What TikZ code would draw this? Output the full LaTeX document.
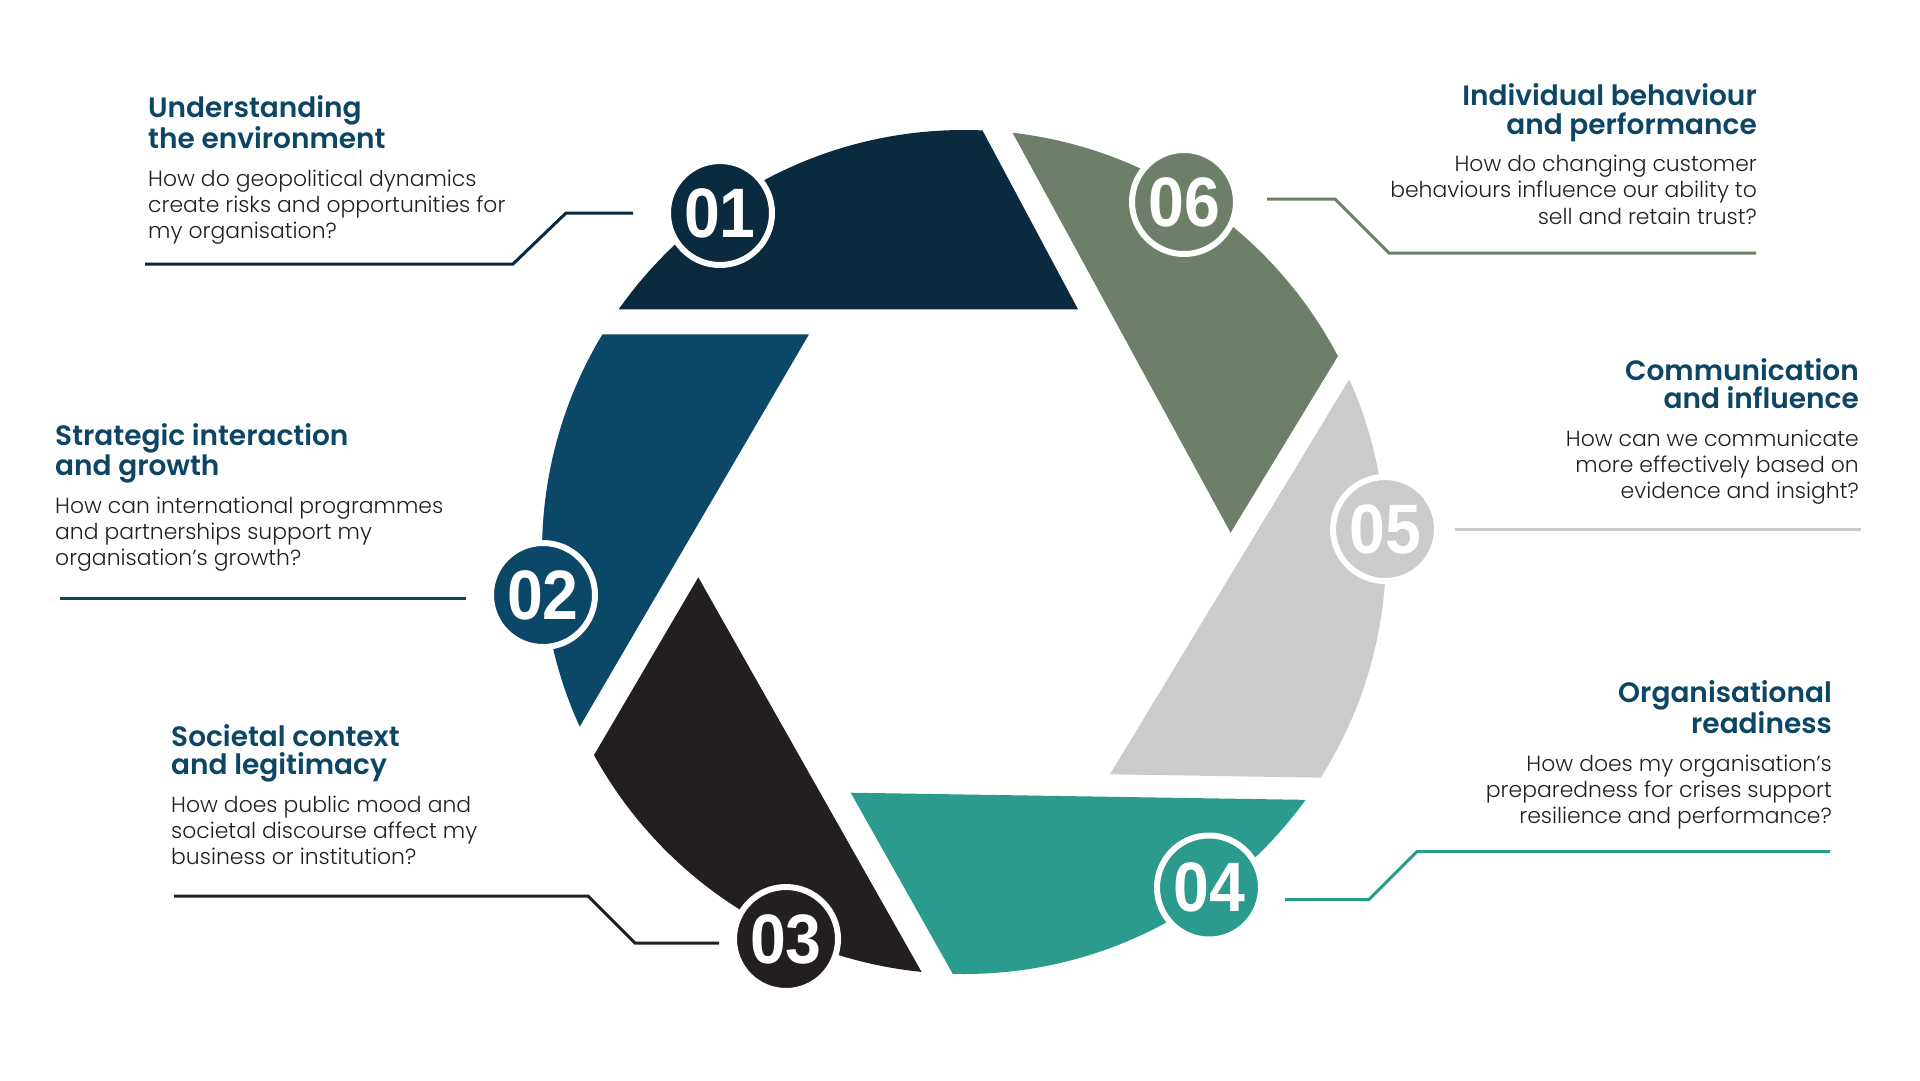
\documentclass[tikz,border=0pt]{standalone}
\usepackage{fontspec}
\usepackage{tikz}
\usetikzlibrary{positioning, calc}
\setmainfont{Poppins}[UprightFont={* Light}, BoldFont={* SemiBold}]
\newfontfamily\numfont{Liberation Sans}[FakeStretch=0.92]

\definecolor{c01}{HTML}{0A2A3F}
\definecolor{c02}{HTML}{0B4766}
\definecolor{c03}{HTML}{231F20}
\definecolor{c04}{HTML}{2A9B8C}
\definecolor{c05}{HTML}{CBCBCB}
\definecolor{c06}{HTML}{6E7F69}
\definecolor{headblue}{HTML}{0C4664}
\definecolor{bodygrey}{HTML}{231F20}

\tikzset{
  numdot/.style={circle, draw=white, line width=6pt, minimum size=104pt, inner sep=0pt,
    text=white, font=\numfont\bfseries\fontsize{70}{70}\selectfont},
  link/.style={line width=3pt},
  headL/.style={anchor=base west, align=left, inner sep=0pt, text=headblue,
    font=\bfseries\fontsize{28}{28.3}\selectfont},
  headR/.style={headL, anchor=base east, align=right},
  askL/.style={anchor=base west, align=left, inner sep=0pt, text=bodygrey,
    font=\fontsize{21.9}{26.3}\selectfont},
  askR/.style={askL, anchor=base east, align=right},
}

\begin{document}
\begin{tikzpicture}[x=1pt, y=1pt]
    % Sfondo
    \fill[white] (0,0) rectangle (1920,-1080);
    \useasboundingbox (0,0) rectangle (1920,-1080);
    \coordinate (C) at (964,-552);

    % Lamelle del diaframma
    \foreach \vx/\vy/\a/\b/\col in {1078/-309.3/118.1/180/c01, 809/-334.3/180/239.7/c02,
        698.3/-577.3/239.6/299.5/c03, 850.7/-792.7/299.4/359.1/c04,
        1110/-774.3/-0.9/58.8/c05, 1230.6/-532.7/58.7/118.6/c06} {
        \begin{scope}
            \clip (C) circle[radius=422];
            \fill[\col] (\vx,\vy) -- +(\a:1200) -- +(\b:1200) -- cycle;
        \end{scope}
    }

    % Cerchi numerati
    \foreach \i/\x/\y/\col in {1/720/-213/c01, 2/543/-595/c02, 3/786/-939/c03,
        4/1209/-887.5/c04, 5/1385/-529/c05, 6/1184/-202/c06} {
        \node[numdot, fill=\col] (n\i) at (\x,\y) {0\i};
    }

    % Estremi liberi delle linee
    \coordinate (e1) at (145,-264);
    \coordinate (e2) at (60,-598);
    \coordinate (e3) at (174,-896);
    \coordinate (e4) at (1830,-851.5);
    \coordinate (e5) at (1861,-529);
    \coordinate (e6) at (1756,-253);

    % Linee di richiamo
    \draw[link, c01] ([xshift=-32pt]n1.west) -- ++(-67,0) -- ++(-53,-51) -- (e1);
    \draw[link, c02] ([shift={(-22pt,-3pt)}]n2.west) -- (e2);
    \draw[link, c03] ([shift={(-12pt,-4pt)}]n3.west) -- ++(-84,0) -- ++(-47,47) -- (e3);
    \draw[link, c04] ([shift={(21pt,-12pt)}]n4.east) -- ++(84,0) -- ++(48,48) -- (e4);
    \draw[link, c05] ([xshift=15pt]n5.east) -- (e5);
    \draw[link, c06] ([shift={(28pt,3pt)}]n6.east) -- ++(68,0) -- ++(54,-54) -- (e6);

    % Testi a sinistra (ancorati all'ultima riga)
    \node[headL] (h1) at (148,-148.3) {Understanding\\the environment};
    \node[askL] (q1) at (148,-238.6) {How do geopolitical dynamics\\create risks and opportunities for\\my organisation?};
    \node[headL] (h2) at (55,-475.3) {Strategic interaction\\and growth};
    \node[askL] (q2) at (55,-565.6) {How can international programmes\\and partnerships support my\\organisation’s growth?};
    \node[headL] (h3) at (171,-774.3) {Societal context\\and legitimacy};
    \node[askL] (q3) at (171,-864.6) {How does public mood and\\societal discourse affect my\\business or institution?};

    % Testi a destra
    \node[headR] (h4) at (1832,-733.3) {Organisational\\readiness};
    \node[askR] (q4) at (1832,-823.6) {How does my organisation’s\\preparedness for crises support\\resilience and performance?};
    \node[headR] (h5) at (1859,-408.3) {Communication\\and influence};
    \node[askR] (q5) at (1859,-498.6) {How can we communicate\\more effectively based on\\evidence and insight?};
    \node[headR] (h6) at (1757,-134) {Individual behaviour\\and performance};
    \node[askR] (q6) at (1757,-224) {How do changing customer\\behaviours influence our ability to\\sell and retain trust?};
\end{tikzpicture}
\end{document}
